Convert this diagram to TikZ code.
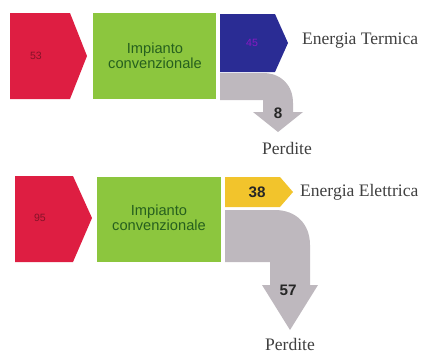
\documentclass[tikz,border=0pt]{standalone}
\usepackage{fontspec}
\setmainfont{Liberation Serif}
\setsansfont{Liberation Sans}
\usetikzlibrary{arrows.meta, positioning}

\definecolor{ingresso}{RGB}{222,30,66}
\definecolor{impianto}{RGB}{140,198,62}
\definecolor{termica}{RGB}{42,44,148}
\definecolor{elettrica}{RGB}{242,196,44}
\definecolor{perdite}{RGB}{190,184,190}
\definecolor{testoverde}{RGB}{38,96,30}

\begin{document}
\begin{tikzpicture}[x=0.03cm, y=-0.03cm,
    valore/.style={font=\sffamily\bfseries\fontsize{13}{13}\selectfont, text=black!85},
    fioco/.style={font=\sffamily\fontsize{9}{9}\selectfont},
    etichetta/.style={font=\fontsize{15}{15}\selectfont, text=black!75, anchor=west},
    blocco/.style={font=\sffamily\fontsize{12.5}{10.5}\selectfont, text=testoverde, align=center}]
      \useasboundingbox (0,0) rectangle (428,353);

      % impianto termico
      \fill[ingresso] (10,13) -- (70,13) -- (87,56) -- (70,99) -- (10,99) -- cycle;
      \fill[impianto] (93,13) rectangle (216,99);
      \fill[termica] (220,14) -- (275,14) -- (288,43) -- (275,72) -- (220,72) -- cycle;
      \fill[perdite] (220,73) -- (263,73) .. controls (281,73) and (293,85) .. (293,103)
            -- (293,112) -- (303,112) -- (278,132) -- (253,112) -- (263,112) -- (263,100)
            -- (220,100) -- cycle;

      \node[fioco, text=ingresso!60!black] (in1) at (36,56) {53};
      \node[blocco] (imp1) at (155,56) {Impianto\\convenzionale};
      \node[fioco, text=termica!55!magenta] (ter) at (252,43) {45};
      \node[valore] (p1) at (278,113) {8};
      \node[etichetta] (lter) at (298,41) {Energia Termica};
      \node[etichetta, anchor=center] (lp1) at (287,148) {Perdite};

      % impianto elettrico
      \fill[ingresso] (15,176) -- (73,176) -- (92,218) -- (73,262) -- (15,262) -- cycle;
      \fill[impianto] (97,177) rectangle (221,262);
      \fill[elettrica] (225,177) -- (280,177) -- (293,192) -- (280,207) -- (225,207) -- cycle;
      \fill[perdite] (225,210) -- (275,210) .. controls (296,210) and (310,224) .. (310,245)
            -- (310,285) -- (318,285) -- (290,330) -- (262,285) -- (270,285) -- (270,262)
            -- (225,262) -- cycle;

      \node[fioco, text=ingresso!60!black] (in2) at (40,218) {95};
      \node[blocco] (imp2) at (159,218) {Impianto\\convenzionale};
      \node[valore] (ele) at (257,192) {38};
      \node[valore] (p2) at (288,290) {57};
      \node[etichetta] (lele) at (296,192) {Energia Elettrica};
      \node[etichetta, anchor=center] (lp2) at (290,344) {Perdite};
\end{tikzpicture}
\end{document}
